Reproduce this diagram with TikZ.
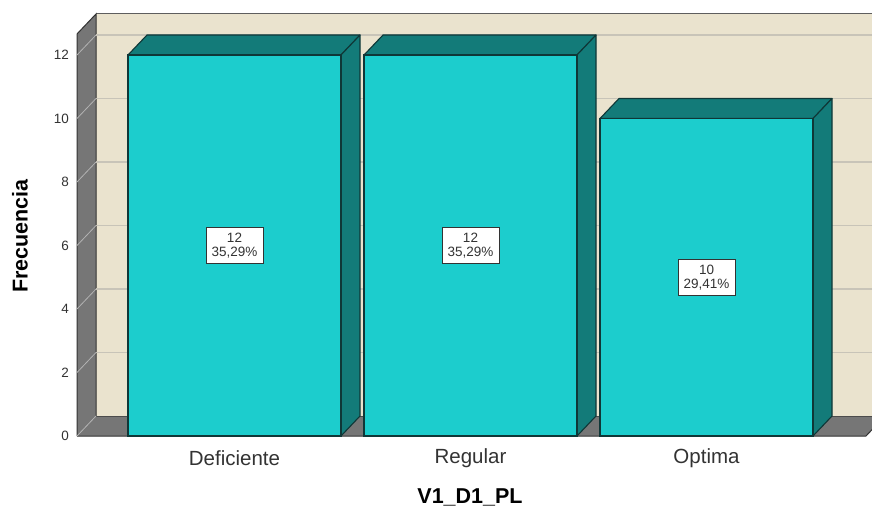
\documentclass[tikz,border=0pt]{standalone}
\usepackage{fontspec}
\setmainfont{Liberation Sans}
\definecolor{wallbeige}{RGB}{234,227,206}
\definecolor{wallgray}{RGB}{118,118,118}
\definecolor{gridgray}{RGB}{200,196,184}
\definecolor{barfront}{RGB}{28,205,205}
\definecolor{barshade}{RGB}{19,123,121}
\definecolor{baredge}{RGB}{15,55,55}
\definecolor{textgray}{RGB}{51,51,51}
\tikzset{
  ticklabel/.style={anchor=east,text=textgray,font=\fontsize{13.5}{14}\selectfont,inner sep=0pt},
  catlabel/.style={text=textgray,font=\fontsize{20.5}{22}\selectfont,inner sep=0pt},
  axistitle/.style={font=\bfseries\fontsize{21.5}{22}\selectfont,inner sep=0pt},
  valbox/.style={draw=textgray,fill=white,line width=1pt,minimum width=57pt,minimum height=36pt,
    inner sep=0pt,align=center,text=textgray,font=\fontsize{13.5}{14}\selectfont},
  barside/.style={fill=barshade,draw=baredge,line width=1.1pt,line join=round}
}
\begin{document}
\begin{tikzpicture}[x=1pt,y=-1pt]
\clip (0,0) rectangle (872,508);
\fill[white] (0,0) rectangle (872,508);

% The walls
\fill[wallbeige] (96,14) rectangle (890,416);
\draw[wallgray!80!black,line width=1pt] (96,14) -- (890,14);
\fill[wallgray] (77,436) -- (77,34) -- (96,14) -- (96,416) -- cycle;
\fill[wallgray] (77,436) -- (96,416) -- (885,416) -- (866,436) -- cycle;
\draw[black!80,line width=1pt] (77,436) -- (77,34) -- (96,14) -- (96,416);
\draw[black!80,line width=1pt] (77,436) -- (866,436) -- (885,416);
\draw[black!70,line width=0.8pt] (96,416) -- (885,416);

% The grid lines and ticks
\foreach \k in {0,...,6}{
    \pgfmathsetmacro{\yk}{436-\k*63.5}
    \pgfmathsetmacro{\yb}{\yk-20}
    \pgfmathtruncatemacro{\val}{2*\k}
    \ifnum\k>0
      \draw[gridgray,line width=1.2pt] (96,\yb) -- (890,\yb);
    \fi
    \draw[black!30!white,line width=0.8pt] (77,\yk) -- (96,\yb);
    \node[ticklabel] (tick-\k) at (69,\yk) {\val};
}

% The bars
\foreach \xo/\v/\cat/\pct [count=\i] in {128/12/Deficiente/{35,29},364/12/Regular/{35,29},600/10/Optima/{29,41}}{
    \pgfmathsetmacro{\yt}{436-\v*31.75}
    \pgfmathsetmacro{\ytb}{\yt-20}
    \pgfmathsetmacro{\xr}{\xo+213}
    \pgfmathsetmacro{\xrb}{\xo+232}
    \pgfmathsetmacro{\xm}{\xo+106.5}
    \pgfmathsetmacro{\ym}{(\yt+436)/2}
    \filldraw[barside] (\xo,\yt) -- (\xo+19,\ytb) -- (\xrb,\ytb) -- (\xr,\yt) -- cycle;
    \filldraw[barside] (\xr,\yt) -- (\xrb,\ytb) -- (\xrb,416) -- (\xr,436) -- cycle;
    \filldraw[fill=barfront,draw=baredge,line width=1.1pt] (\xo,\yt) rectangle (\xr,436);
    \node[valbox] (box-\i) at (\xm,\ym) {\v\\\pct\%};
    \node[catlabel] (cat-\i) at (\xm,458) {\cat};
}

% The axis titles
\node[axistitle] (xtitle) at (470,497) {V1\_D1\_PL};
\node[axistitle,rotate=90] (ytitle) at (20,236) {Frecuencia};

\end{tikzpicture}
\end{document}
